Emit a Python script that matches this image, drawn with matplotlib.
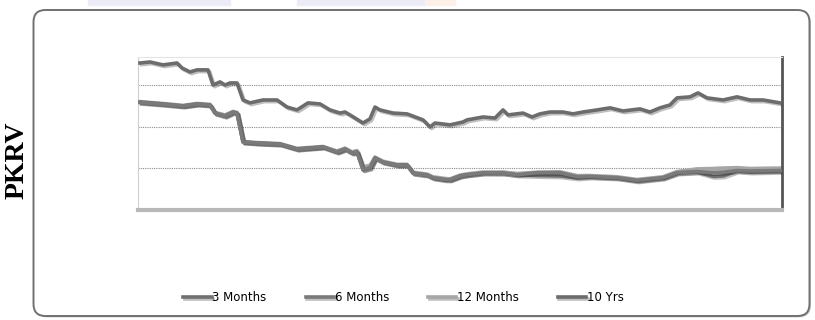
import numpy as np
import matplotlib.pyplot as plt
import matplotlib.patheffects as pe
from matplotlib.patches import FancyBboxPatch, Rectangle

obs_long = [2, 12, 25, 39, 44, 52, 59, 70, 75, 82, 87, 92, 99, 105, 112, 125, 139,
            149, 159, 170, 182, 192, 202, 207, 212, 225, 232, 237, 242, 255, 269,
            285, 292, 297, 312, 325, 329, 345, 357, 365, 370, 385, 394, 402, 412,
            425, 435, 445, 459, 472, 485, 502, 512, 522, 532, 539, 552, 560, 569,
            585, 599, 612, 625, 642]
yrs10 = [13.08, 13.13, 12.99, 13.08, 12.84, 12.65, 12.75, 12.75, 12.02, 12.17,
         12.02, 12.12, 12.12, 11.30, 11.16, 11.30, 11.30, 10.96, 10.82, 11.16,
         11.11, 10.82, 10.67, 10.72, 10.58, 10.19, 10.39, 10.96, 10.82, 10.67,
         10.63, 10.34, 10.00, 10.19, 10.10, 10.24, 10.34, 10.48, 10.43, 10.82,
         10.58, 10.67, 10.48, 10.63, 10.72, 10.72, 10.63, 10.72, 10.82, 10.92,
         10.77, 10.87, 10.72, 10.92, 11.06, 11.40, 11.45, 11.64, 11.40, 11.30,
         11.45, 11.30, 11.30, 11.16]

obs_short = [2, 25, 45, 59, 72, 77, 87, 95, 99, 105, 119, 142, 159, 185, 199, 207,
             214, 219, 225, 232, 237, 245, 259, 269, 275, 289, 295, 307, 312, 322,
             329, 345, 365, 379, 399, 422, 439, 452, 479, 499, 525, 539, 559, 575,
             585, 599, 612, 642]
months3 = [11.20, 11.11, 11.01, 11.11, 11.06, 10.67, 10.53, 10.72, 10.67, 9.28,
           9.23, 9.18, 8.94, 9.04, 8.80, 8.94, 8.75, 8.80, 7.93, 8.02, 8.51, 8.31,
           8.17, 8.17, 7.78, 7.69, 7.54, 7.45, 7.45, 7.64, 7.69, 7.78, 7.78, 7.69,
           7.66, 7.64, 7.54, 7.59, 7.54, 7.40, 7.54, 7.78, 7.83, 7.62, 7.64, 7.88,
           7.83, 7.86]
months6 = [11.18, 11.09, 11.01, 11.10, 11.05, 10.66, 10.52, 10.70, 10.66, 9.27,
           9.22, 9.17, 8.93, 9.03, 8.79, 8.93, 8.74, 8.79, 7.95, 8.04, 8.50, 8.30,
           8.16, 8.16, 7.77, 7.68, 7.55, 7.47, 7.46, 7.64, 7.70, 7.79, 7.78, 7.70,
           7.80, 7.80, 7.60, 7.62, 7.56, 7.43, 7.56, 7.80, 7.85, 7.80, 7.82, 7.90,
           7.88, 7.90]
months12 = [11.22, 11.13, 11.04, 11.13, 11.09, 10.70, 10.58, 10.75, 10.70, 9.30,
            9.25, 9.20, 8.97, 9.06, 8.84, 8.98, 8.80, 8.86, 8.08, 8.15, 8.55,
            8.35, 8.20, 8.20, 7.82, 7.73, 7.60, 7.52, 7.50, 7.68, 7.74, 7.83,
            7.83, 7.76, 7.82, 7.84, 7.66, 7.66, 7.60, 7.47, 7.60, 7.85, 7.98,
            8.00, 8.02, 8.04, 8.00, 8.02]

fig = plt.figure(figsize=(8.15, 3.2), dpi=100)

# faint page decorations at the very top
fig.patches.append(Rectangle((88 / 815, 1 - 5 / 320), 142 / 815, 5 / 320,
                             transform=fig.transFigure, color='#ececf6', zorder=0))
fig.patches.append(Rectangle((297 / 815, 1 - 5 / 320), 130 / 815, 5 / 320,
                             transform=fig.transFigure, color='#ececf6', zorder=0))
fig.patches.append(Rectangle((425 / 815, 1 - 5 / 320), 30 / 815, 5 / 320,
                             transform=fig.transFigure, color='#fcf0e8', zorder=0))

# rounded outer frame (in inches so the corners stay round)
box = FancyBboxPatch((0.335, 0.04), 7.76, 3.06,
                     boxstyle="round,pad=0,rounding_size=0.12",
                     transform=fig.dpi_scale_trans, facecolor='white',
                     edgecolor='#707070', linewidth=1.4, zorder=1,
                     path_effects=[pe.SimplePatchShadow(offset=(1, -1), alpha=0.3),
                                   pe.Normal()])
fig.patches.append(box)

ax = fig.add_axes([138 / 815, 1 - 210 / 320, 644 / 815, 153 / 320])
ax.set_zorder(2)
ax.set_xlim(0, 644)
ax.set_ylim(6, 13.37)
for lvl in [8, 10, 12]:
    ax.axhline(lvl, color='#8a8a8a', linestyle=(0, (1, 1)), linewidth=0.8, zorder=1)
ax.set_xticks([])
ax.set_yticks([])
ax.spines['top'].set_color('#e4e4e4')
ax.spines['left'].set_color('#d0d0d0')
ax.spines['right'].set_color('#555555')
ax.spines['right'].set_linewidth(2)
ax.spines['bottom'].set_color('#b8b8b8')
ax.spines['bottom'].set_linewidth(3)

shadow = [pe.SimpleLineShadow(offset=(1.2, -1.2), alpha=0.25), pe.Normal()]
l3, = ax.plot(obs_short, months3, color='#707070', linewidth=2.6, label='3 Months',
              path_effects=shadow, zorder=3)
l6, = ax.plot(obs_short, months6, color='#7a7a7a', linewidth=2.6, label='6 Months',
              path_effects=shadow, zorder=3)
l12, = ax.plot(obs_short, months12, color='#a6a6a6', linewidth=2.6, label='12 Months',
               path_effects=shadow, zorder=2)
l10, = ax.plot(obs_long, yrs10, color='#6c6c6c', linewidth=2.6, label='10 Yrs',
               path_effects=shadow, zorder=3)

fig.legend(handles=[l3, l6, l12, l10], loc='center', bbox_to_anchor=(0.495, 0.069),
           ncol=4, frameon=False, handlelength=2.4, handletextpad=0.05,
           columnspacing=3.3, prop={'family': ['Liberation Sans Narrow', 'DejaVu Sans'],
                                    'size': 8.5})

fig.text(0.021, 0.50, 'PKRV', rotation=90, ha='center', va='center',
         fontsize=20, fontweight='bold', family=['Liberation Serif', 'DejaVu Serif'])

fig.savefig('out.png', dpi=100)
